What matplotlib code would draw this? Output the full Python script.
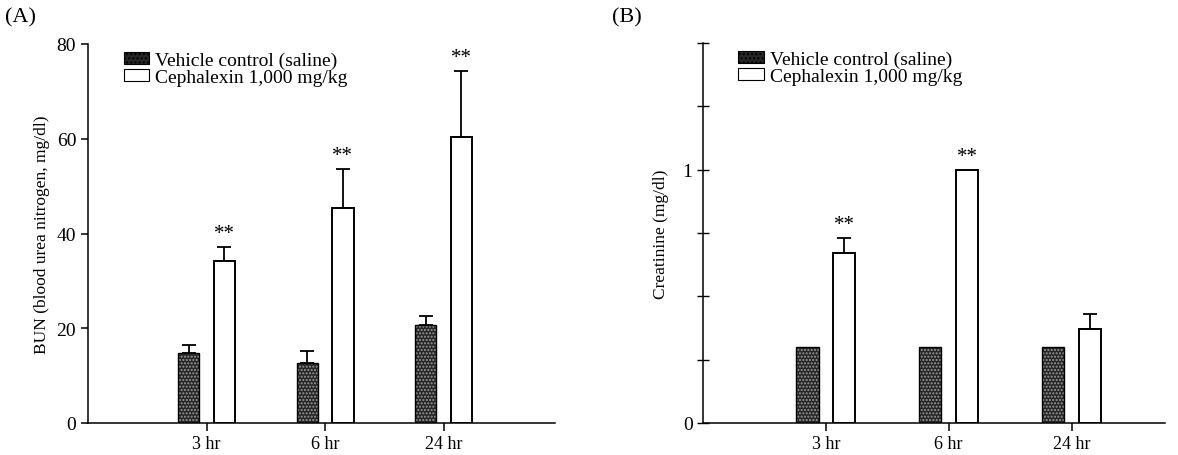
import matplotlib
matplotlib.use("Agg")
import matplotlib.pyplot as plt
from matplotlib.patches import Patch
import numpy as np

plt.rcParams['font.family'] = ['Liberation Serif', 'DejaVu Serif']
plt.rcParams['font.size'] = 13

# ---- data ----
categories = ["3 hr", "6 hr", "24 hr"]
series_names = ["Vehicle control (saline)", "Cephalexin 1,000 mg/kg"]

bun_vehicle = [14.8, 12.7, 20.7]
bun_vehicle_err = [1.6, 2.4, 1.9]
bun_ceph = [34.2, 45.4, 60.3]
bun_ceph_err = [2.9, 8.2, 13.9]
bun_sig = [True, True, True]

cre_vehicle = [0.30, 0.30, 0.30]
cre_vehicle_err = [0.0, 0.0, 0.0]
cre_ceph = [0.67, 1.00, 0.373]
cre_ceph_err = [0.06, 0.0, 0.059]
cre_sig = [True, True, False]

bun_ticks = [0, 20, 40, 60, 80]
cre_ticks = [0, 0.25, 0.5, 0.75, 1.0, 1.25, 1.5]
cre_ticklabels = ["0", "", "", "", "1", "", ""]

fig = plt.figure(figsize=(11.78, 4.56), dpi=100)
axA = fig.add_axes([88/1178, 32/456, (555-88)/1178, (424-45)/456])
axB = fig.add_axes([703/1178, 32/456, (1165-703)/1178, (424-44)/456])

width = 0.18
offset = 0.15
dark = '#262626'
stip = '#9a9a9a'


def errs(ax, xs, vals, err):
    xs = np.asarray(xs)
    vals = np.asarray(vals)
    err = np.asarray(err)
    m = err > 0
    if m.any():
        ax.errorbar(xs[m], vals[m], yerr=[np.zeros(m.sum()), err[m]], fmt='none',
                    ecolor='black', elinewidth=1.3, capsize=5, capthick=1.3,
                    zorder=1)


def draw(ax, veh, veh_err, ceph, ceph_err, sig, ymax, xmax):
    x = np.arange(1, len(categories) + 1)
    errs(ax, x - offset, veh, veh_err)
    errs(ax, x + offset, ceph, ceph_err)
    # vehicle: stippled dark bars
    ax.bar(x - offset, veh, width, color=dark, edgecolor=stip, hatch='.....',
           linewidth=0, zorder=2)
    ax.bar(x - offset, veh, width, fill=False, edgecolor='black', linewidth=1.0,
           zorder=3)
    ax.bar(x + offset, ceph, width, color='white', edgecolor='black', linewidth=1.4,
           zorder=3)
    for xi, c, e, s in zip(x, ceph, ceph_err, sig):
        if s:
            ax.annotate('**', (xi + offset, c + e), xytext=(0, 3),
                        textcoords='offset points', ha='center', va='bottom',
                        fontsize=15)
    ax.set_xlim(0, xmax)
    ax.set_ylim(0, ymax)
    ax.set_xticks(x)
    ax.set_xticklabels(categories, fontsize=13)
    ax.spines['top'].set_visible(False)
    ax.spines['right'].set_visible(False)
    for sp in ('left', 'bottom'):
        ax.spines[sp].set_linewidth(1.1)
    ax.tick_params(axis='x', length=6, width=1.1, pad=3)
    handles = [Patch(facecolor=dark, edgecolor='black', hatch='....', linewidth=0.8),
               Patch(facecolor='white', edgecolor='black', linewidth=0.8)]
    ax.legend(handles, series_names, loc='upper left', bbox_to_anchor=(0.06, 1.0),
              frameon=False, handlelength=1.3, handleheight=0.6,
              handletextpad=0.3, labelspacing=0.0, borderaxespad=0,
              fontsize=14)


draw(axA, bun_vehicle, bun_vehicle_err, bun_ceph, bun_ceph_err, bun_sig, 80, 3.94)
axA.set_yticks(bun_ticks)
axA.tick_params(axis='y', length=5, width=1.1, labelsize=14)
axA.set_ylabel("BUN (blood urea nitrogen, mg/dl)", fontsize=12.5, labelpad=5)

draw(axB, cre_vehicle, cre_vehicle_err, cre_ceph, cre_ceph_err, cre_sig, 1.5, 3.76)
axB.set_yticks(cre_ticks)
axB.set_yticklabels(cre_ticklabels)
axB.tick_params(axis='y', length=8, width=1.0, direction='inout', labelsize=14)
axB.set_ylabel("Creatinine (mg/dl)", fontsize=12.5, labelpad=10)

fig.text(5/1178, 1 - 18/456, "(A)", fontsize=16, va='center', ha='left')
fig.text(612/1178, 1 - 18/456, "(B)", fontsize=16, va='center', ha='left')

fig.savefig("out.png", dpi=100)
